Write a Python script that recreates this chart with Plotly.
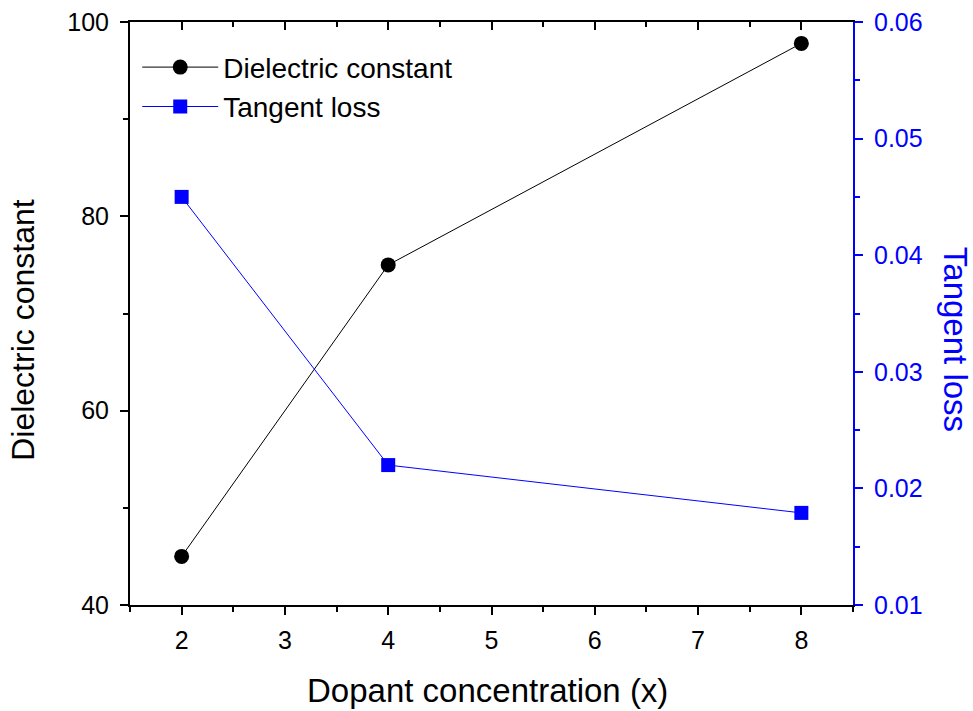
import plotly.graph_objects as go

x_vals = [2, 4, 8]
dielectric = [45, 75, 97.8]
tan_loss = [0.045, 0.022, 0.0179]

FONT = "Liberation Sans, Arial, sans-serif"
BLUE = "#0000FF"

fig = go.Figure()
fig.add_trace(go.Scatter(
    x=x_vals, y=dielectric, name="Dielectric constant", mode="lines+markers",
    line=dict(color="black", width=1),
    marker=dict(symbol="circle", size=15, color="black"),
    yaxis="y", xaxis="x"))
fig.add_trace(go.Scatter(
    x=x_vals, y=tan_loss, name="Tangent loss", mode="lines+markers",
    line=dict(color=BLUE, width=1),
    marker=dict(symbol="square", size=14, color=BLUE),
    yaxis="y2", xaxis="x"))
# dummy trace to activate the top mirror axis
fig.add_trace(go.Scatter(x=[None], y=[None], xaxis="x2", yaxis="y",
                         showlegend=False, hoverinfo="skip"))

tickfont = dict(family=FONT, size=25, color="black")

fig.update_layout(
    width=973, height=711,
    margin=dict(l=130, r=120, t=22, b=106, autoexpand=False),
    paper_bgcolor="white", plot_bgcolor="white",
    showlegend=True,
    legend=dict(x=0.01, y=0.965, xanchor="left", yanchor="top",
                bgcolor="rgba(0,0,0,0)", font=dict(family=FONT, size=28, color="black"),
                tracegroupgap=0, itemwidth=76),
    xaxis=dict(range=[1.5, 8.5], dtick=1, tick0=0, showgrid=False, zeroline=False,
               showline=True, linecolor="black", linewidth=2,
               ticks="outside", ticklen=8, tickwidth=2, tickcolor="black",
               minor=dict(dtick=0.5, ticks="outside", ticklen=5, tickwidth=2, tickcolor="black"),
               tickfont=tickfont, ticklabelstandoff=4),
    xaxis2=dict(range=[1.5, 8.5], overlaying="x", side="top", matches="x",
                dtick=1, tick0=0, showgrid=False, zeroline=False,
                showline=True, linecolor="black", linewidth=2,
                ticks="inside", ticklen=8, tickwidth=2, tickcolor="black",
                minor=dict(dtick=0.5, ticks="inside", ticklen=5, tickwidth=2, tickcolor="black"),
                showticklabels=False),
    yaxis=dict(range=[40, 100], dtick=20, tick0=0, showgrid=False, zeroline=False,
               showline=True, linecolor="black", linewidth=2,
               ticks="outside", ticklen=8, tickwidth=2, tickcolor="black",
               minor=dict(dtick=10, ticks="outside", ticklen=5, tickwidth=2, tickcolor="black"),
               tickfont=tickfont, ticklabelstandoff=6),
    yaxis2=dict(range=[0.01, 0.06], dtick=0.01, tick0=0, overlaying="y", side="right",
                showgrid=False, zeroline=False,
                showline=True, linecolor=BLUE, linewidth=2,
                ticks="outside", ticklen=8, tickwidth=2, tickcolor=BLUE,
                minor=dict(dtick=0.005, ticks="outside", ticklen=5, tickwidth=2, tickcolor=BLUE),
                tickformat=".2f",
                tickfont=dict(family=FONT, size=25, color=BLUE), ticklabelstandoff=6),
    annotations=[
        dict(text="Dopant concentration (x)", xref="paper", yref="paper",
             x=0.495, y=-0.146, showarrow=False, xanchor="center", yanchor="middle",
             font=dict(family=FONT, size=33, color="black")),
        dict(text="Dielectric constant", xref="paper", yref="paper",
             x=-0.148, y=0.472, showarrow=False, textangle=-90, xanchor="center", yanchor="middle",
             font=dict(family=FONT, size=32, color="black")),
        dict(text="Tangent loss", xref="paper", yref="paper",
             x=1.141, y=0.455, showarrow=False, textangle=90, xanchor="center", yanchor="middle",
             font=dict(family=FONT, size=33, color=BLUE)),
    ],
)

fig.write_html("out.html")
